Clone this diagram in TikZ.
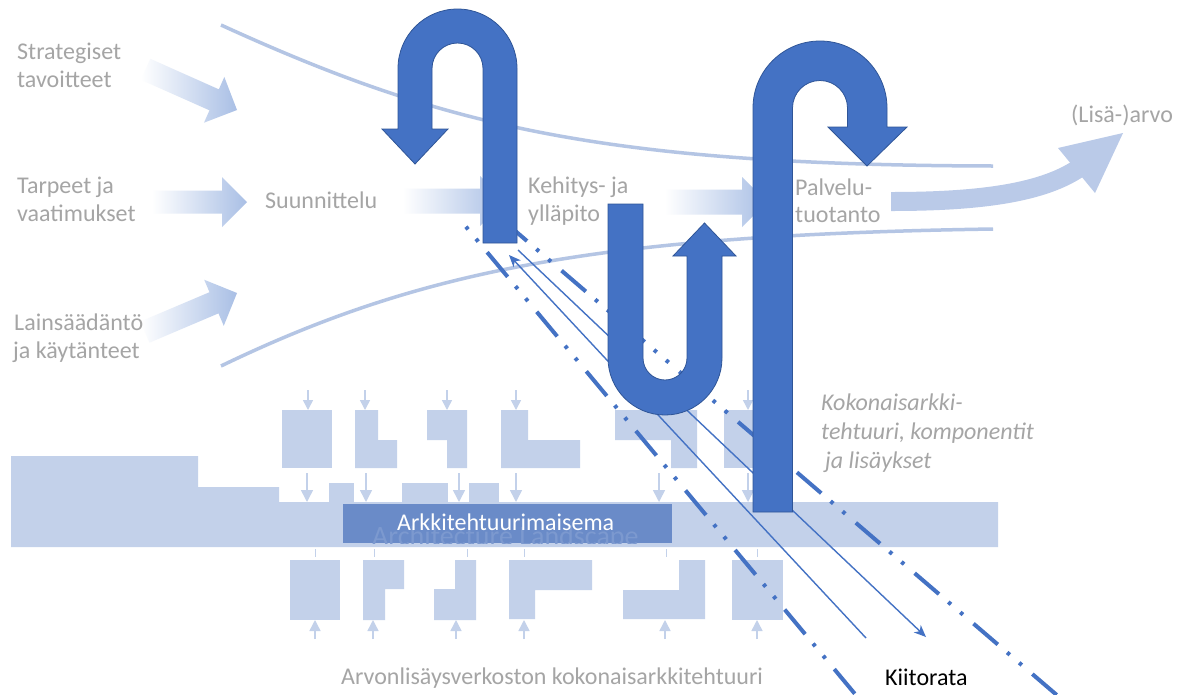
\documentclass[tikz,border=0pt]{standalone}
\usepackage{fontspec}
\setmainfont{Carlito}
\usetikzlibrary{arrows.meta}
\definecolor{dkblue}{HTML}{4472C4}
\definecolor{dkedge}{HTML}{2F5597}
\definecolor{lsblue}{HTML}{C3D1EA}
\definecolor{boxblue}{HTML}{6A8BC8}
\definecolor{ghostc}{HTML}{7C99CF}
\definecolor{flowblue}{HTML}{B4C5E4}
\definecolor{valblue}{HTML}{BACAE8}
\definecolor{arrowblue}{HTML}{A9BFE5}
\definecolor{txtgray}{HTML}{A5A5A5}
\begin{document}
\begin{tikzpicture}[x=1pt,y=-1pt,
  lbl/.style={anchor=base west, inner sep=0pt, text=txtgray, font=\fontsize{24}{28}\selectfont},
  lblit/.style={lbl, font=\fontsize{24}{28}\selectfont\itshape},
  darr/.style={fill=dkblue, draw=dkedge, line width=0.8pt, line join=miter},
  runway/.style={draw=dkblue, line width=4pt, dash pattern=on 32pt off 12.3pt on 3.5pt off 12.3pt on 3.5pt off 13.9pt},
  thinrun/.style={draw=dkblue, line width=1.4pt, -{Stealth[length=12pt,width=10pt,inset=3.5pt]}},
  sarr/.style={draw=lsblue, line width=1.5pt, -{Triangle[length=10pt,width=10pt]}},
  garr/.style={draw=lsblue, line width=1.5pt, -{Triangle[length=12pt,width=12pt]}},
  uarr/.style={draw=lsblue, line width=1.5pt, -{Triangle[length=11pt,width=11pt]}},
  tick/.style={draw=lsblue, line width=1pt},
  blk/.style={fill=lsblue},
  gshade/.style={left color=white, right color=arrowblue}
]
\useasboundingbox (0,0) rectangle (1182,694);
\clip (0,0) rectangle (1182,694);
\fill[white] (0,0) rectangle (1182,694);

% ---------- landscape ----------
\fill[blk] (11,456) -- (198,456) -- (198,487) -- (279,487) -- (279,502) -- (998,502) -- (998,547) -- (11,547) -- cycle;
\fill[blk] (329,483) rectangle (354,502);
\fill[blk] (402,483) rectangle (448,502);
\fill[blk] (469,483) rectangle (499,502);
% top row
\fill[blk] (282,410) rectangle (332,468);
\fill[blk] (355,410) -- (378,410) -- (378,440) -- (397,440) -- (397,468) -- (355,468) -- cycle;
\fill[blk] (427,410) -- (467,410) -- (467,468) -- (447,468) -- (447,440) -- (427,440) -- cycle;
\fill[blk] (501,410) -- (528,410) -- (528,440) -- (580,440) -- (580,468) -- (501,468) -- cycle;
\fill[blk] (615,410) -- (697,410) -- (697,468) -- (671,468) -- (671,440) -- (615,440) -- cycle;
\fill[blk] (724,410) rectangle (775,468);
% bottom row
\fill[blk] (290,560) rectangle (340,620);
\fill[blk] (363,560) -- (404,560) -- (404,589) -- (385,589) -- (385,620) -- (363,620) -- cycle;
\fill[blk] (455,560) -- (476,560) -- (476,620) -- (434,620) -- (434,589) -- (455,589) -- cycle;
\fill[blk] (509,560) -- (592,560) -- (592,590) -- (535,590) -- (535,619) -- (509,619) -- cycle;
\fill[blk] (679,560) -- (705,560) -- (705,619) -- (623,619) -- (623,590) -- (679,590) -- cycle;
\fill[blk] (732,560) rectangle (783,620);
% small arrows above top row
\foreach \x in {308,365,447,516,656,748} \draw[sarr] (\x,390) -- (\x,410);
% arrows into the bar
\foreach \x in {307,366,459,516,659,748} \draw[garr] (\x,473) -- (\x,502);
% ticks below the bar
\foreach \x in {315,374,467,524,666,757} \draw[tick] (\x,549) -- (\x,557);
% arrows up into bottom row
\foreach \x in {315,373,456,524,665,757} \draw[uarr] (\x,639) -- (\x,620);

% ---------- architecture landscape box ----------
\fill[boxblue] (343,504) rectangle (672,543);
\begin{scope}
  \clip (343,504) rectangle (672,543);
  \node[anchor=base west, inner sep=0pt, text=ghostc, font=\fontsize{28}{30}\selectfont] (ghost) at (372,545) {Architecture Landscape};
\end{scope}
\node[anchor=base west, inner sep=0pt, text=white, font=\fontsize{24}{28}\selectfont] (maisema) at (397,530) {Arkkitehtuurimaisema};

% ---------- flow boundary curves ----------
\draw[flowblue, line width=3.5pt] (221,25) .. controls (440,125) and (600,165) .. (993,166);
\draw[flowblue, line width=3.5pt] (221,366) .. controls (420,270) and (600,235) .. (993,229);

% ---------- gradient input arrows ----------
\begin{scope}[shift={(237,110)}, rotate=-24]
  \shade[gshade] (-100,-11.5) -- (-25,-11.5) -- (-25,-25) -- (0,0) -- (-25,25) -- (-25,11.5) -- (-100,11.5) -- cycle;
\end{scope}
\begin{scope}[shift={(247,202)}]
  \shade[gshade] (-95,-11.5) -- (-25,-11.5) -- (-25,-25) -- (0,0) -- (-25,25) -- (-25,11.5) -- (-95,11.5) -- cycle;
\end{scope}
\begin{scope}[shift={(237,293)}, rotate=23]
  \shade[gshade] (-100,-11.5) -- (-25,-11.5) -- (-25,-25) -- (0,0) -- (-25,25) -- (-25,11.5) -- (-100,11.5) -- cycle;
\end{scope}
\begin{scope}[shift={(505,201)}]
  \shade[gshade] (-102,-12.5) -- (-25,-12.5) -- (-25,-25) -- (0,0) -- (-25,25) -- (-25,12.5) -- (-102,12.5) -- cycle;
\end{scope}
\begin{scope}[shift={(767,202)}]
  \shade[gshade] (-102,-12.5) -- (-25,-12.5) -- (-25,-25) -- (0,0) -- (-25,25) -- (-25,12.5) -- (-102,12.5) -- cycle;
\end{scope}

% ---------- value arrow ----------
\coordinate (vs) at (891,201.5);
\coordinate (ve) at (1082,166);
\draw[valblue, line width=19pt] (vs) .. controls (980,201.5) and (1045,193) .. (ve);
\fill[valblue] (1058,148) -- (1123,133) -- (1095,193) -- cycle;

% ---------- labels ----------
\node[lbl] (s1) at (17,59.5) {Strategiset};
\node[lbl] (s2) at (17,87.5) {tavoitteet};
\node[lbl] (t1) at (17,193) {Tarpeet ja};
\node[lbl] (t2) at (17,221) {vaatimukset};
\node[lbl] (l1) at (14,330) {Lainsäädäntö};
\node[lbl] (l2) at (13,358) {ja käytänteet};
\node[lbl] (suun) at (265,208) {Suunnittelu};
\node[lbl] (k1) at (528,193) {Kehitys- ja};
\node[lbl] (k2) at (528,221) {ylläpito};
\node[lbl] (p1) at (795,195) {Palvelu-};
\node[lbl] (p2) at (795,222) {tuotanto};
\node[lbl] (arvo) at (1071,122) {(Lisä-)arvo};
\node[lblit] (ka1) at (821,410) {Kokonaisarkki-};
\node[lblit] (ka2) at (821,439) {tehtuuri, komponentit};
\node[lblit] (ka3) at (825,468) {ja lisäykset};
\node[lbl] (verk) at (341,684) {Arvonlisäysverkoston kokonaisarkkitehtuuri};
\node[lbl, text=black] (kiito) at (885,685) {Kiitorata};

% ---------- runway lines ----------
\coordinate (r1s) at (465.9,226.7);
\coordinate (r1e) at (860,700);
\coordinate (r2s) at (502.7,220.2);
\coordinate (r2e) at (1062.6,700);
\draw[runway, dash phase=44.3pt] (r1s) -- (r1e);
\draw[runway] (r2s) -- (r2e);
\coordinate (a1s) at (866,638);
\coordinate (a1e) at (509,255);
\coordinate (a2s) at (518,250);
\coordinate (a2e) at (926,637);
\draw[thinrun] (a1s) -- (a1e);
\draw[thinrun] (a2s) -- (a2e);

% ---------- dark U-turn arrows ----------
\draw[darr] (517,243) -- (517,68.5) arc[start angle=0, end angle=-180, radius=59.5]
  -- (398,129) -- (382,129) -- (415,164) -- (448,129) -- (432,129) -- (432,68.5)
  arc[start angle=180, end angle=360, radius=25.5] -- (483,243) -- cycle;
\draw[darr] (608,204) -- (608,358) arc[start angle=180, end angle=0, radius=57]
  -- (722,256) -- (736,256) -- (704.5,223) -- (673,256) -- (687,256) -- (687,358)
  arc[start angle=0, end angle=180, radius=22] -- (643,204) -- cycle;
\draw[darr] (753,512) -- (753,108) arc[start angle=180, end angle=360, radius=67]
  -- (887,127) -- (907,127) -- (867,166) -- (828,127) -- (847.5,127) -- (847.5,108)
  arc[start angle=0, end angle=-180, radius=27.5] -- (792.5,108) -- (792.5,512) -- cycle;
\end{tikzpicture}
\end{document}
